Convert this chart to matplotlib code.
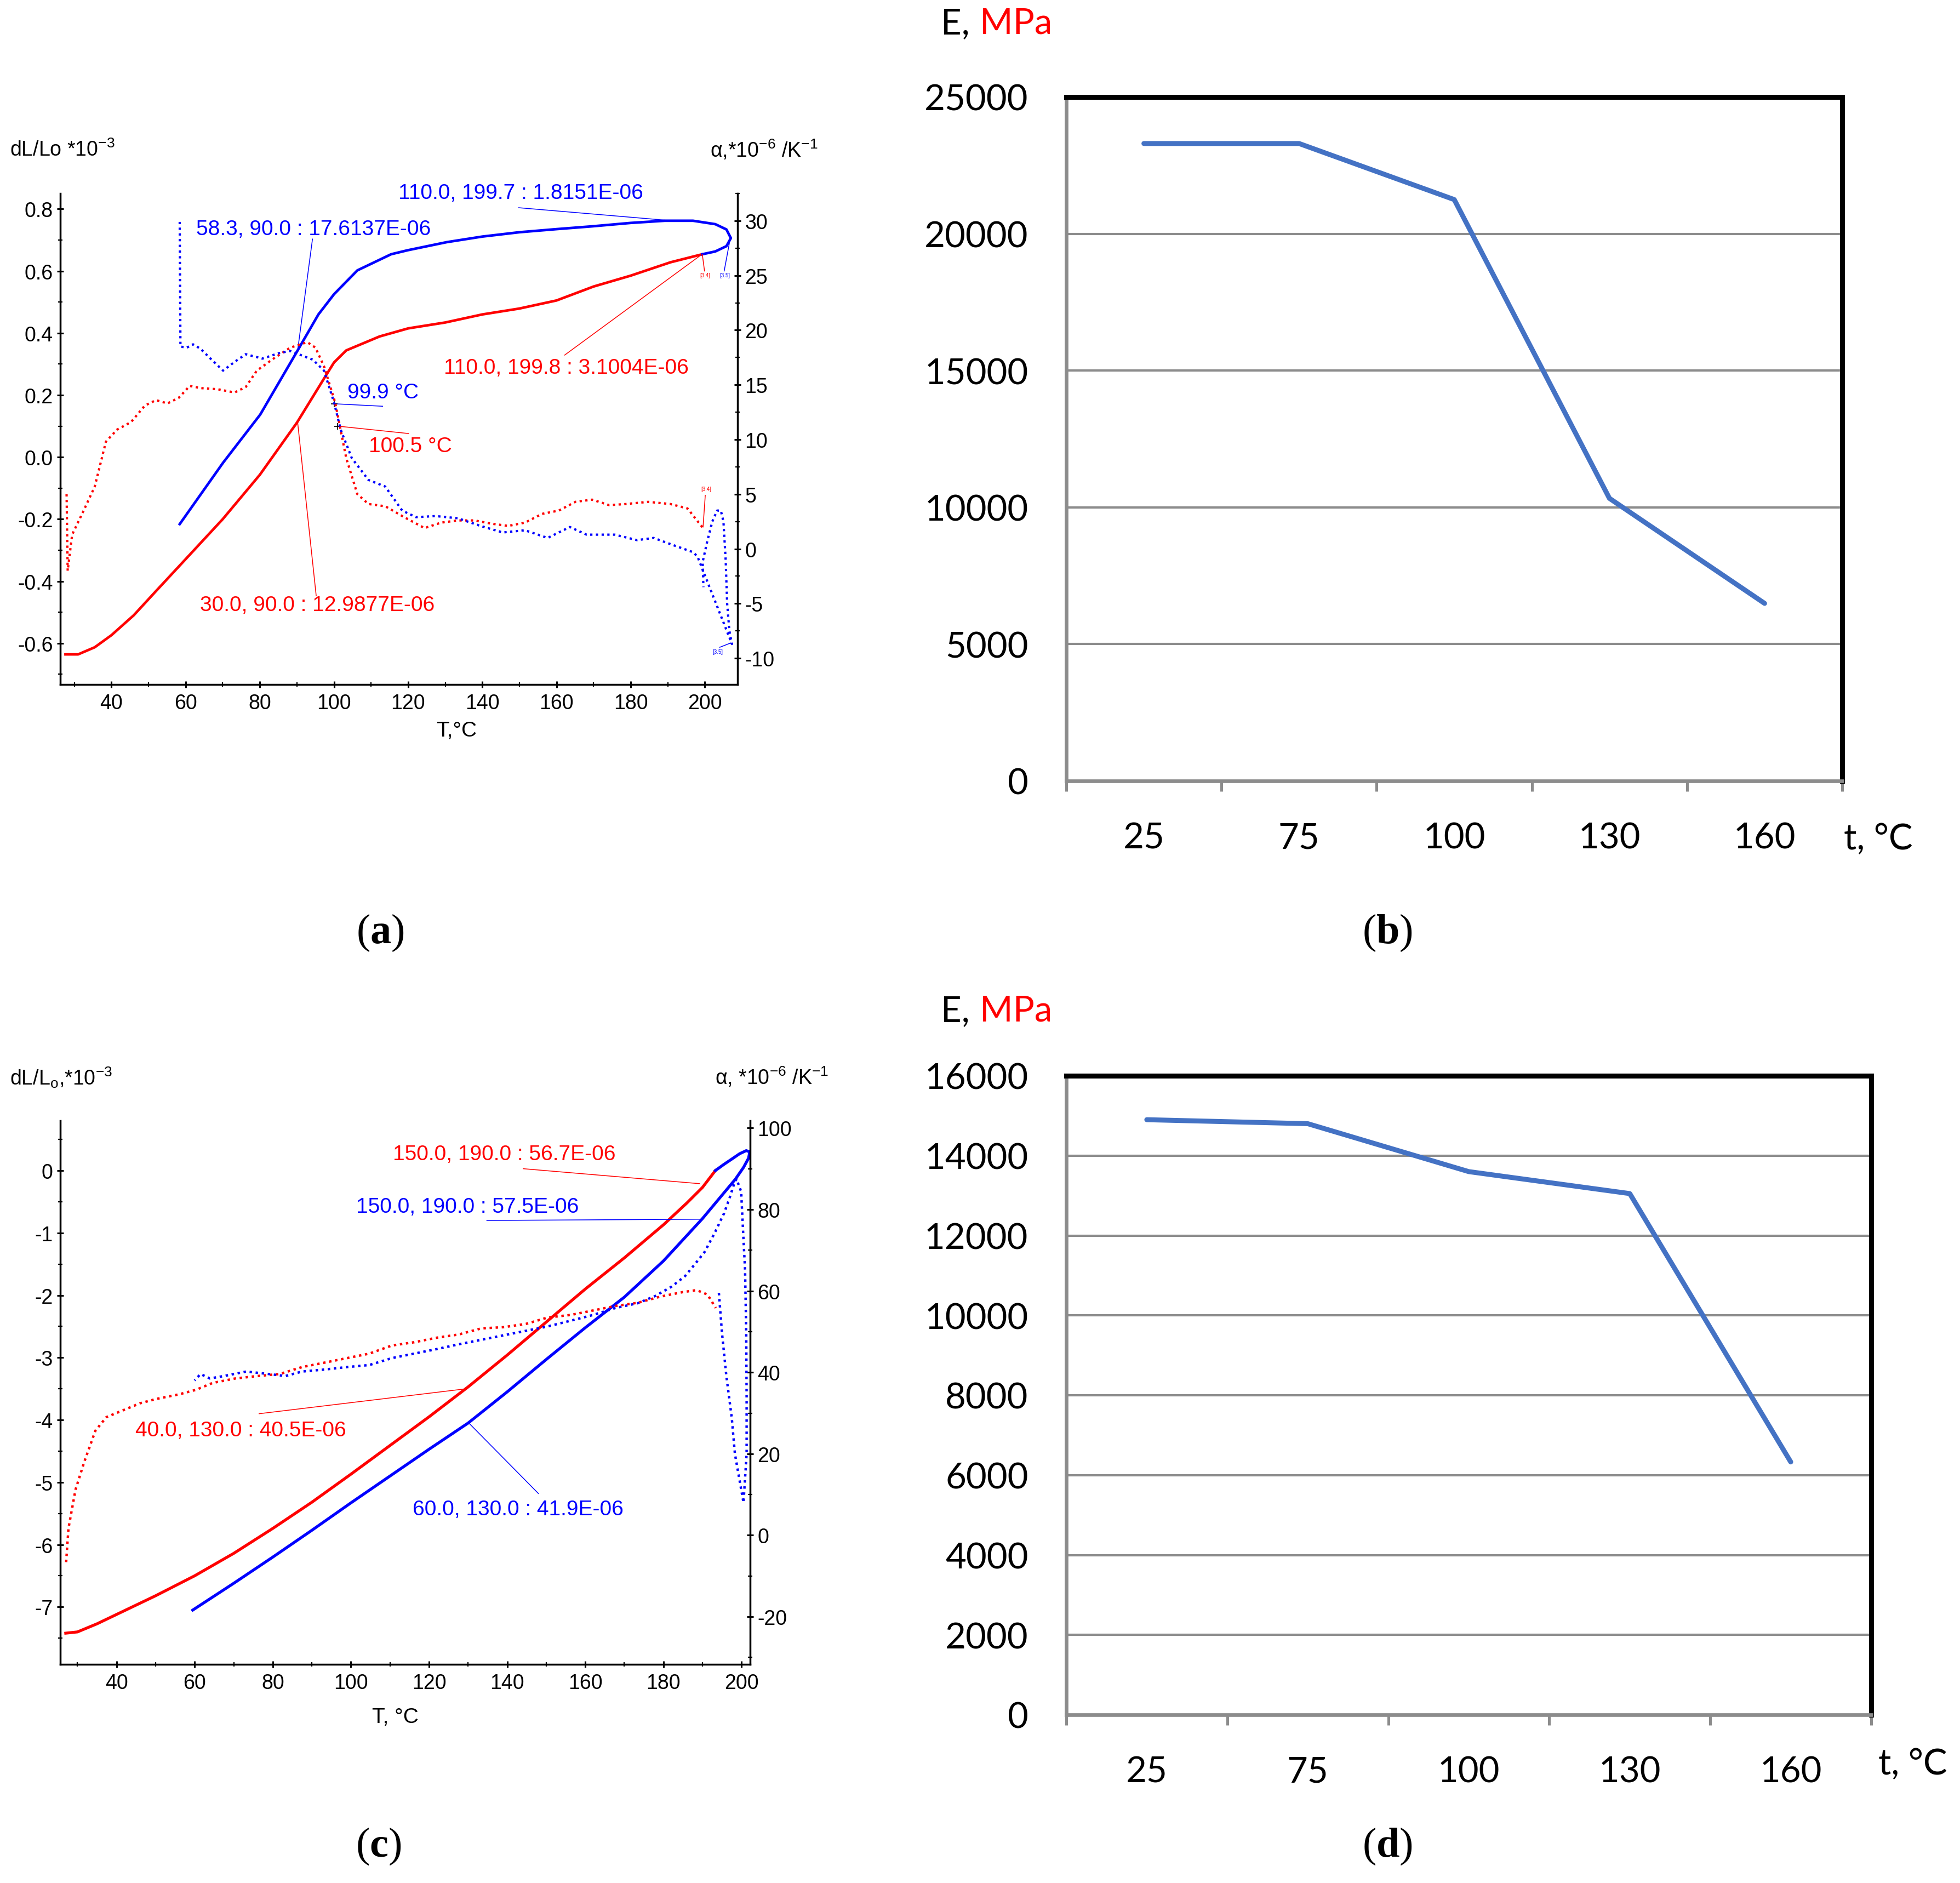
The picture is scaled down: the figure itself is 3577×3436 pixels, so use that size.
import matplotlib
matplotlib.use("Agg")
import matplotlib.pyplot as plt
from matplotlib.ticker import MultipleLocator, FuncFormatter

plt.rcParams['font.family'] = ['Liberation Sans', 'DejaVu Sans']
plt.rcParams['mathtext.fontset'] = 'custom'
plt.rcParams['mathtext.bf'] = 'Liberation Serif:bold'
plt.rcParams['mathtext.default'] = 'regular'
plt.rcParams['axes.unicode_minus'] = False

# ---- (a) dilatometry: dL/Lo (left axis) and alpha (right axis) ----
a_heat_T = [27.6, 31, 35.5, 40, 46, 52, 60, 70, 80, 90, 97.3, 100, 103.3, 112.3, 120, 130, 140,
            150, 160, 170, 180, 190.7, 199.3]
a_heat_dL = [-0.636, -0.636, -0.613, -0.574, -0.51, -0.432, -0.329, -0.2, -0.057, 0.111, 0.253,
             0.305, 0.344, 0.389, 0.415, 0.434, 0.46, 0.479, 0.505, 0.55, 0.585, 0.628, 0.654]
a_cool_T = [199.3, 202.8, 205.8, 207, 205.8, 202.8, 196.8, 189.2, 180, 169.6, 160, 150, 140, 130.4,
            119.9, 115.4, 106.3, 100, 95.8, 90.2, 80.1, 70.1, 58.4]
a_cool_dL = [0.654, 0.663, 0.68, 0.706, 0.734, 0.751, 0.762, 0.762, 0.755, 0.744, 0.735, 0.725,
             0.711, 0.693, 0.667, 0.654, 0.602, 0.525, 0.46, 0.344, 0.137, -0.018, -0.216]
a_heat_alpha_T = [27.9, 28.2, 29.4, 32.5, 35.5, 38.5, 41.5, 45.3, 49, 52, 55.1, 58.1, 61.1, 64.1,
                  68.6, 73.2, 76.2, 79.2, 83.7, 88.2, 92.8, 95, 97.3, 100.3, 103.3, 106.3, 109.3,
                  113.8, 118.4, 124.4, 128.9, 133.4, 137.9, 142.5, 147, 151.5, 156.1, 160.6, 165.1,
                  169.6, 174.2, 178.7, 184.7, 190.7, 195.3, 199.5]
a_heat_alpha = [5.0, -2.0, 1.3, 3.5, 5.7, 9.8, 10.9, 11.6, 13.1, 13.6, 13.3, 13.8, 14.9, 14.7, 14.6,
                14.3, 14.8, 16.3, 17.4, 18.4, 18.9, 18.4, 16.7, 13.4, 8.3, 5.0, 4.1, 3.9, 3.0, 1.9,
                2.4, 2.6, 2.6, 2.3, 2.1, 2.4, 3.2, 3.5, 4.3, 4.5, 4.0, 4.1, 4.3, 4.1, 3.7, 1.9]
a_cool_alpha_T = [58.4, 58.6, 60.3, 62, 64, 67, 70.1, 73.2, 76.2, 80.7, 85.2, 88.2, 91.2, 94.3, 97.3,
                  100, 101.8, 104.8, 109.3, 113.8, 118.4, 122.1, 127.4, 133.4, 139.5, 145.5, 151.5,
                  157.6, 163.6, 168.1, 175.7, 181.7, 186.2, 191, 196.8, 198, 207.3, 206.6, 206,
                  205.6, 205, 204.3, 203.3, 202, 200.5, 199.4, 199.6]
a_cool_alpha = [29.9, 18.5, 18.4, 18.7, 18.3, 17.3, 16.3, 17.1, 17.8, 17.4, 17.9, 18.1, 17.7, 17.3,
                16.3, 13.4, 10.9, 8.3, 6.3, 5.7, 3.5, 2.9, 3.0, 2.8, 2.1, 1.5, 1.7, 1.0, 2.0, 1.3,
                1.3, 0.8, 1.0, 0.4, -0.3, -0.7, -8.7, -7.5, -5.0, -1.0, 2.5, 3.5, 3.5, 2.5, 0.5,
                -1.2, -3.5]

# ---- (c) dilatometry, second sample ----
c_heat_T = [27, 30, 35, 40, 50, 60, 70, 80, 90, 100, 110, 120, 130, 140, 150, 160, 170, 180, 186,
            190, 193.3]
c_heat_dL = [-7.42, -7.40, -7.27, -7.12, -6.82, -6.50, -6.14, -5.74, -5.32, -4.87, -4.41, -3.95,
             -3.47, -2.96, -2.43, -1.90, -1.40, -0.87, -0.52, -0.27, 0.0]
c_cool_T = [193.3, 195.5, 197.4, 199.5, 201.2, 202.1, 201.8, 200.5, 198.4, 196, 190, 180, 170, 160,
            150, 140, 130, 120, 110, 100, 90, 80, 70, 59.5]
c_cool_dL = [0.0, 0.1, 0.18, 0.27, 0.32, 0.3, 0.2, 0.05, -0.14, -0.32, -0.77, -1.45, -2.03, -2.52,
             -3.03, -3.55, -4.05, -4.47, -4.9, -5.33, -5.77, -6.2, -6.62, -7.05]
c_heat_alpha_T = [27.1, 27.7, 29.5, 31.7, 34.6, 37.4, 41.7, 46, 50.3, 56, 60.3, 64.6, 70.4, 76.1,
                  81.8, 87.5, 93.3, 99, 104.7, 110.5, 116.2, 121.9, 127.6, 133.4, 139.1, 144.8,
                  150.5, 156.3, 162, 167.7, 173.5, 179.2, 184.9, 188.5, 191.3, 193.4]
c_heat_alpha = [-6.6, 1.7, 11.2, 17.9, 25.7, 29.0, 30.7, 32.4, 33.5, 34.6, 35.7, 37.4, 38.5, 39.1,
                39.6, 41.3, 42.4, 43.5, 44.6, 46.6, 47.4, 48.5, 49.3, 50.8, 51.1, 51.9, 53.5, 54.1,
                55.2, 56.3, 57.1, 58.6, 59.7, 60.2, 59.1, 55.8]
c_cool_alpha_T = [194.2, 195, 196.1, 197.5, 198.3, 200.5, 201.3, 201.3, 201.2, 200.9, 200.4, 199.9,
                  198.7, 198, 197, 195.5, 193, 190.5, 188, 185.5, 182, 178, 173.5, 167.7, 162,
                  156.3, 150.5, 144.8, 139.1, 133.4, 127.6, 121.9, 116.2, 110.5, 104.7, 99, 93.3,
                  87.5, 83.2, 78.9, 73.2, 67.5, 63.9, 61.5, 60]
c_cool_alpha = [59.5, 49.6, 39.2, 28.8, 20, 8, 20, 34, 49.6, 65.2, 74.5, 84.4, 87.5, 86, 83, 79,
                74, 69.5, 66.5, 63.6, 61, 58.8, 57, 55.8, 54.1, 52.7, 51.3, 50.2, 49.1, 48.0, 46.9,
                45.7, 44.6, 43.5, 41.8, 41.3, 40.7, 40.2, 39.1, 39.6, 40.2, 39.1, 38.5, 39.6, 38]

# ---- (b), (d) elastic modulus vs temperature ----
temps = ['25', '75', '100', '130', '160']
E_b = [23300, 23300, 21250, 10330, 6490]
E_d = [14900, 14800, 13600, 13050, 6330]

W, H = 3577, 3437
fig = plt.figure(figsize=(W / 100, H / 100), dpi=100)


def rect(x0, y0, x1, y1):
    return [x0 / W, 1 - y1 / H, (x1 - x0) / W, (y1 - y0) / H]


def ftext(x, y, s, **kw):
    fig.text(x / W, 1 - y / H, s, **kw)


def dil_axes(r, xlim, ylim, ylim2, ystep, y2step, yfmt):
    ax = fig.add_axes(r)
    ax2 = ax.twinx()
    ax.set_xlim(*xlim)
    ax.set_ylim(*ylim)
    ax2.set_ylim(*ylim2)
    for a in (ax, ax2):
        for s in a.spines.values():
            s.set_visible(False)
            s.set_linewidth(2.5)
    ax.spines['left'].set_visible(True)
    ax.spines['bottom'].set_visible(True)
    ax2.spines['right'].set_visible(True)
    ax.xaxis.set_major_locator(MultipleLocator(20))
    ax.xaxis.set_minor_locator(MultipleLocator(10))
    ax.yaxis.set_major_locator(MultipleLocator(ystep))
    ax.yaxis.set_minor_locator(MultipleLocator(ystep / 2))
    ax.yaxis.set_major_formatter(FuncFormatter(yfmt))
    ax2.yaxis.set_major_locator(MultipleLocator(y2step))
    ax2.yaxis.set_minor_locator(MultipleLocator(y2step / 2))
    for a in (ax, ax2):
        a.tick_params(which='major', direction='inout', length=9, width=2.2, labelsize=27, pad=5)
        a.tick_params(which='minor', direction='inout', length=6, width=1.6)
    ax.tick_params(axis='x', pad=7)
    return ax, ax2


def notes(ax, items, size=28):
    for s, col, (tx, ty), line in items:
        ax.text(tx, ty, s, color=col, fontsize=size, ha='left', va='center', clip_on=False)
        ax.plot([p[0] for p in line], [p[1] for p in line], color=col, lw=1.1, clip_on=False)


dotted = (0, (1, 1.5))

# panel (a)
ax, ax2 = dil_axes(rect(110, 354, 1346, 1250), (26.2, 208.8), (-0.733, 0.85), (-12.4, 32.5),
                   0.2, 5, lambda v, p: f'{round(v, 1) + 0:.1f}')
ax.plot(a_heat_T, a_heat_dL, color='red', lw=3.4)
ax.plot(a_cool_T, a_cool_dL, color='blue', lw=3.4)
ax2.plot(a_heat_alpha_T, a_heat_alpha, color='red', lw=3.0, ls=dotted)
ax2.plot(a_cool_alpha_T, a_cool_alpha, color='blue', lw=3.0, ls=dotted)
notes(ax, [
    ('110.0, 199.7 : 1.8151E-06', 'blue', (117.4, 0.852), [(149.8, 0.804), (189.2, 0.764)]),
    ('58.3, 90.0 : 17.6137E-06', 'blue', (62.9, 0.736), [(94.2, 0.703), (90.2, 0.344)]),
    ('110.0, 199.8 : 3.1004E-06', 'red', (129.6, 0.289), [(162.2, 0.329), (199.0, 0.652)]),
    ('99.9 °C', 'blue', (103.6, 0.208), [(100, 0.172), (113.1, 0.164)]),
    ('100.5 °C', 'red', (109.4, 0.035), [(100.9, 0.10), (120.1, 0.076)]),
    ('30.0, 90.0 : 12.9877E-06', 'red', (63.9, -0.476), [(95.2, -0.447), (90.2, 0.112)]),
])
ax.plot([100, 100.9], [0.172, 0.10], ls='none', marker='+', ms=8, mew=1.2, color='k')
notes(ax, [
    ('[3.4]', 'red', (198.6, 0.587), [(199.9, 0.600), (199.3, 0.654)]),
    ('[3.5]', 'blue', (204.0, 0.587), [(205.2, 0.600), (206.6, 0.69)]),
], size=7)
notes(ax2, [
    ('[3.4]', 'red', (199.0, 5.5), [(200.1, 4.9), (199.5, 2.0)]),
    ('[3.5]', 'blue', (202.0, -9.4), [(204.0, -9.0), (207.0, -8.6)]),
], size=7)

# panel (c)
ax, ax2 = dil_axes(rect(110, 2046, 1369, 3038), (25.6, 202.2), (-7.92, 0.8), (-31.7, 101.8),
                   1, 20, lambda v, p: f'{int(round(v))}')
ax.plot(c_heat_T, c_heat_dL, color='red', lw=3.8)
ax.plot(c_cool_T, c_cool_dL, color='blue', lw=3.8)
ax2.plot(c_heat_alpha_T, c_heat_alpha, color='red', lw=3.2, ls=dotted)
ax2.plot(c_cool_alpha_T, c_cool_alpha, color='blue', lw=3.2, ls=dotted)
notes(ax, [
    ('150.0, 190.0 : 56.7E-06', 'red', (110.7, 0.26), [(144.1, 0.03), (189.3, -0.21)]),
    ('150.0, 190.0 : 57.5E-06', 'blue', (101.4, -0.58), [(134.8, -0.80), (189.8, -0.78)]),
    ('40.0, 130.0 : 40.5E-06', 'red', (44.8, -4.17), [(76.5, -3.9), (129.5, -3.5)]),
    ('60.0, 130.0 : 41.9E-06', 'blue', (115.8, -5.43), [(148, -5.18), (130.2, -4.05)]),
])

# axis titles of the dilatometry panels
ftext(18, 274, r'dL/Lo *10$^{-3}$', fontsize=27, va='center')
ftext(1296, 274, r'α,*10$^{-6}$ /K$^{-1}$', fontsize=27, va='center')
ftext(833, 1334, 'T,°C', fontsize=28, ha='center', va='center')
ftext(18, 1966, r'dL/L$_{o}$,*10$^{-3}$', fontsize=27, va='center')
ftext(1305, 1966, r'α, *10$^{-6}$ /K$^{-1}$', fontsize=27, va='center')
ftext(721, 3134, 'T, °C', fontsize=28, ha='center', va='center')


def modulus_axes(r, vals, ymax, ystep):
    ax = fig.add_axes(r)
    xs = list(range(len(temps)))
    ax.plot(xs, vals, color='#4472C4', lw=6.5, solid_joinstyle='round', solid_capstyle='round',
            zorder=3)
    ax.set_xlim(-0.5, len(temps) - 0.5)
    ax.set_ylim(0, ymax)
    ax.set_yticks(range(0, ymax + 1, ystep))
    ax.grid(axis='y', color='#8c8c8c', lw=3)
    ax.set_axisbelow(True)
    ax.set_xticks([i - 0.5 for i in range(len(temps) + 1)])
    ax.set_xticklabels([])
    ax.set_xticks(xs, minor=True)
    ax.set_xticklabels(temps, minor=True)
    ax.tick_params(axis='x', which='major', direction='out', length=14, width=3.6, color='#8c8c8c')
    ax.tick_params(axis='x', which='minor', length=0, labelsize=47, pad=54)
    ax.tick_params(axis='y', length=0, labelsize=47, pad=50)
    for lab in ax.get_xticklabels(minor=True) + ax.get_yticklabels():
        lab.set_family('Lato')
    for s in ('top', 'right'):
        ax.spines[s].set_color('black')
        ax.spines[s].set_linewidth(6.5)
    for s in ('left', 'bottom'):
        ax.spines[s].set_color('#8c8c8c')
        ax.spines[s].set_linewidth(4.8)
    return ax


modulus_axes(rect(1946, 178, 3362, 1426), E_b, 25000, 5000)
modulus_axes(rect(1946, 1964, 3415, 3130), E_d, 16000, 2000)

for yb in (62, 1864):
    ftext(1717, yb, 'E,', fontsize=47, family='Lato', va='baseline')
    ftext(1788, yb, 'MPa', fontsize=47, family='Lato', va='baseline', color='red')
ftext(3365, 1550, 't, °C', fontsize=47, family='Lato', va='baseline')
ftext(3428, 3238, 't, °C', fontsize=47, family='Lato', va='baseline')

# sub-figure letters
for s, x, y in (('a', 694, 1702), ('b', 2532, 1702), ('c', 691, 3369), ('d', 2532, 3369)):
    ftext(x, y, r'($\mathbf{' + s + '}$)', family='Liberation Serif', fontsize=55,
          ha='center', va='center')

fig.savefig('out.png', dpi=100, facecolor='white')
